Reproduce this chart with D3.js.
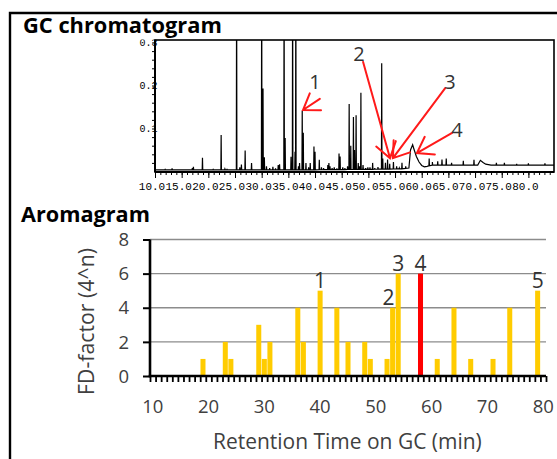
<!DOCTYPE html>
<html><head><meta charset="utf-8">
<script src="https://cdn.jsdelivr.net/npm/d3@7"></script>
<style>body{margin:0;background:#fff}svg{display:block}</style>
</head><body>
<svg id="c" width="557" height="459"></svg>
<script>
// ---------- GC chromatogram data ----------
const baseRT    = [10, 40, 50, 56, 57.6, 57.9, 58.3, 58.6, 59.0, 59.5, 60.0, 60.5, 61.0, 62.0, 70.5, 71.0, 71.5, 72.0, 73.0, 84.8];
const baseLevel = [0.004, 0.004, 0.005, 0.006, 0.008, 0.05, 0.062, 0.05, 0.035, 0.022, 0.014, 0.011, 0.012, 0.015, 0.015, 0.026, 0.021, 0.017, 0.015, 0.015];
const peakRT = [11.9, 13.2, 17.0, 17.2, 18.9, 20.9, 22.4, 23.1, 23.5, 25.3, 25.9, 26.2, 26.9, 28.1, 30.0, 30.25, 30.5, 30.9, 31.5, 32.1, 32.6, 33.1, 33.35, 34.2, 34.4, 35.5, 35.8, 36.25, 36.4, 36.9, 37.1, 37.6, 37.8, 38.3, 38.8, 39.1, 39.8, 40.0, 40.8, 41.2, 41.6, 42.4, 42.6, 42.8, 43.2, 43.6, 44.1, 44.5, 44.7, 45.2, 45.6, 46.1, 46.4, 46.7, 47.2, 47.4, 47.7, 48.1, 48.35, 48.6, 49.0, 49.5, 49.9, 50.3, 50.8, 51.2, 51.8, 52.5, 52.7, 53.2, 53.6, 54.0, 54.7, 55.3, 55.8, 56.3, 57.0, 61.4, 62.0, 63.0, 63.8, 64.6, 65.6, 67.8, 69.8, 74.0, 75.5, 77.8, 80.0, 83.1];
const peakH  = [0.005, 0.007, 0.008, 0.011, 0.032, 0.005, 0.085, 0.006, 0.005, 0.5, 0.01, 0.016, 0.049, 0.02, 0.5, 0.193, 0.033, 0.012, 0.008, 0.011, 0.007, 0.015, 0.017, 0.5, 0.078, 0.034, 0.5, 0.046, 0.5, 0.012, 0.02, 0.141, 0.09, 0.02, 0.01, 0.02, 0.058, 0.046, 0.027, 0.01, 0.008, 0.015, 0.02, 0.012, 0.008, 0.01, 0.007, 0.042, 0.035, 0.01, 0.008, 0.012, 0.157, 0.06, 0.127, 0.05, 0.131, 0.02, 0.012, 0.183, 0.015, 0.008, 0.01, 0.01, 0.02, 0.008, 0.01, 0.252, 0.03, 0.02, 0.028, 0.018, 0.022, 0.012, 0.008, 0.02, 0.012, 0.03, 0.022, 0.024, 0.028, 0.03, 0.02, 0.025, 0.027, 0.02, 0.02, 0.018, 0.019, 0.019];
const gcXTicks = [10, 15, 20, 25, 30, 35, 40, 45, 50, 55, 60, 65, 70, 75, 80];
const gcYTicks = [0.1, 0.2, 0.3];
// arrows: tail / tip given in (retention time, intensity)
const arrowTail = [[40.9, 0.169], [49.0, 0.255], [64.4, 0.194], [65.7, 0.09]];
const arrowTip  = [[37.75, 0.143], [54.06, 0.031], [54.6, 0.031], [59.1, 0.043]];
const arrowLabel = ["1", "2", "3", "4"];
const arrowLabelPos = [[40.0, 0.208], [48.25, 0.273], [65.3, 0.208], [66.6, 0.0965]];

// ---------- Aromagram data ----------
const aromaRT = [19, 23, 24, 29, 30, 31, 36, 37, 40, 43, 45, 48, 49, 52, 53, 54, 58, 61, 64, 67, 71, 74, 79];
const aromaFD = [1, 2, 1, 3, 1, 2, 4, 2, 5, 4, 2, 2, 1, 1, 4, 6, 6, 1, 4, 1, 1, 4, 5];
const highlightRT = [58];
const aromaLabelRT = [40, 53, 54, 58, 79];
const aromaLabelText = ["1", "2", "3", "4", "5"];
const aromaYTicks = [0, 2, 4, 6, 8];
const aromaXTicks = [10, 20, 30, 40, 50, 60, 70, 80];

const svg = d3.select("#c");
const FONT = "'Open Sans', sans-serif";

function fitWidth(sel, target) {
  const w = sel.node().getComputedTextLength();
  const fs = parseFloat(sel.attr("font-size"));
  sel.attr("font-size", fs * target / w);
}

// outer frame
svg.append("path").attr("d", "M10,459V13H557").attr("fill", "none").attr("stroke", "#000").attr("stroke-width", 2.4);

// ---------- chromatogram ----------
const xC = d3.scaleLinear().domain([10, 84.8]).range([155, 554]);
const yC = d3.scaleLinear().domain([0, 0.3]).range([171.5, 42.5]);

svg.append("defs").append("clipPath").attr("id", "gcclip")
  .append("rect").attr("x", 155).attr("y", 40).attr("width", 399).attr("height", 132);
svg.select("defs").append("clipPath").attr("id", "ylabclip")
  .append("rect").attr("x", 100).attr("y", 39.5).attr("width", 60).attr("height", 140);

const baseAt = d3.scaleLinear().domain(baseRT).range(baseLevel);
const pts = baseRT.map((t, i) => [t, baseLevel[i]]);
peakRT.forEach((t, i) => {
  pts.push([t - 0.05, baseAt(t - 0.05)], [t, peakH[i]], [t + 0.05, baseAt(t + 0.05)]);
});
pts.sort((a, b) => a[0] - b[0]);
svg.append("path")
  .attr("clip-path", "url(#gcclip)")
  .attr("d", d3.line().x(d => xC(d[0])).y(d => yC(d[1]))(pts))
  .attr("fill", "none").attr("stroke", "#000").attr("stroke-width", 1.2);

// frame
svg.append("rect").attr("x", 155).attr("y", 40).attr("width", 399).attr("height", 132)
  .attr("fill", "none").attr("stroke", "#000").attr("stroke-width", 1.6);

// x axis ticks
const gxC = svg.append("g").attr("transform", "translate(0,172)");
gxC.call(d3.axisBottom(xC).tickValues(d3.range(10, 85, 1)).tickSize(3).tickFormat(""));
gxC.append("g").call(d3.axisBottom(xC).tickValues(gcXTicks).tickSize(6).tickFormat(""));
gxC.selectAll(".domain").remove();
gxC.selectAll("line").attr("stroke", "#000").attr("stroke-width", 1);
gxC.selectAll(".xl").data(gcXTicks).enter().append("text")
  .attr("x", d => xC(d) - 3).attr("y", 18)
  .attr("font-family", "'Liberation Mono', monospace").attr("font-size", 11)
  .attr("fill", "#000").text(d => d.toFixed(1));

// y axis
const gyC = svg.append("g").attr("transform", "translate(155,0)");
gyC.call(d3.axisLeft(yC).tickValues(d3.range(0.02, 0.31, 0.02)).tickSize(3).tickFormat(""));
gyC.selectAll(".domain").remove();
gyC.selectAll("line").attr("stroke", "#000");
svg.append("g").attr("clip-path", "url(#ylabclip)").selectAll("text").data(gcYTicks).enter().append("text")
  .attr("x", 157.5).attr("y", d => yC(d)).attr("dy", "0.35em").attr("text-anchor", "end")
  .attr("font-family", "'Liberation Mono', monospace").attr("font-size", 10)
  .attr("fill", "#000").text(d => d.toFixed(1));
svg.append("line").attr("x1", 155).attr("x2", 155).attr("y1", 40).attr("y2", 172).attr("stroke", "#000").attr("stroke-width", 2);
svg.append("line").attr("x1", 155).attr("x2", 554).attr("y1", 172).attr("y2", 172).attr("stroke", "#000").attr("stroke-width", 2);

// arrows
const ag = svg.append("g").attr("stroke", "#ff1a1a").attr("stroke-width", 2).attr("fill", "none").attr("stroke-linecap", "round");
arrowTail.forEach((tl, i) => {
  const x1 = xC(tl[0]), y1 = yC(tl[1]);
  const x2 = xC(arrowTip[i][0]), y2 = yC(arrowTip[i][1]);
  const ang = Math.atan2(y1 - y2, x1 - x2);
  const L = 18, a = 0.6;
  ag.append("path").attr("d",
    `M${x1},${y1}L${x2},${y2}` +
    `M${x2 + L * Math.cos(ang - a)},${y2 + L * Math.sin(ang - a)}L${x2},${y2}L${x2 + L * Math.cos(ang + a)},${y2 + L * Math.sin(ang + a)}`);
});
svg.selectAll(".al").data(arrowLabel).enter().append("text")
  .attr("x", (d, i) => xC(arrowLabelPos[i][0])).attr("y", (d, i) => yC(arrowLabelPos[i][1]))
  .attr("dy", "0.36em").attr("text-anchor", "middle")
  .attr("font-family", FONT).attr("font-size", 20).attr("fill", "#333").text(d => d);

// title
const t1 = svg.append("text").attr("x", 23).attr("y", 33).attr("font-family", FONT)
  .attr("font-weight", "bold").attr("font-size", 20).attr("fill", "#000").text("GC chromatogram");
fitWidth(t1, 199);

// ---------- aromagram ----------
const xA = d3.scaleLinear().domain([9.5, 80.5]).range([150, 546]);
const yA = d3.scaleLinear().domain([0, 8]).range([376, 239.5]);

// gridlines
svg.append("g").selectAll("line").data(aromaYTicks.filter(d => d > 0)).enter().append("line")
  .attr("x1", 150).attr("x2", 546).attr("y1", d => yA(d)).attr("y2", d => yA(d))
  .attr("stroke", "#8c8c8c").attr("stroke-width", 1.4);

// bars
svg.append("g").selectAll("rect").data(aromaRT).enter().append("rect")
  .attr("x", d => xA(d - 0.45)).attr("width", d => xA(d + 0.45) - xA(d - 0.45))
  .attr("y", (d, i) => yA(aromaFD[i])).attr("height", (d, i) => yA(0) - yA(aromaFD[i]))
  .attr("fill", d => highlightRT.includes(d) ? "#ff0000" : "#ffcc00");

// bar labels
svg.append("g").selectAll("text").data(aromaLabelRT).enter().append("text")
  .attr("x", (d, i) => xA(d) + (aromaLabelText[i] === "2" ? -4 : 0))
  .attr("y", d => yA(aromaFD[aromaRT.indexOf(d)]) - 3)
  .attr("text-anchor", "middle").attr("font-family", FONT).attr("font-size", 21)
  .attr("fill", "#333").text((d, i) => aromaLabelText[i]);

// x axis
const gxA = svg.append("g").attr("transform", "translate(0,376)");
gxA.call(d3.axisBottom(xA).tickValues(d3.range(9.5, 81, 1)).tickSize(6).tickFormat(""));
gxA.selectAll(".domain").remove();
gxA.selectAll("line").attr("stroke", "#000").attr("stroke-width", 1.8);
svg.append("g").selectAll("text").data(aromaXTicks).enter().append("text")
  .attr("x", d => xA(d)).attr("y", 413).attr("text-anchor", "middle")
  .attr("font-family", FONT).attr("font-size", 18.5).attr("fill", "#404040").text(d => d);

// y axis
const gyA = svg.append("g").attr("transform", "translate(150,0)");
gyA.call(d3.axisLeft(yA).tickValues(aromaYTicks).tickSize(7).tickFormat(""));
gyA.selectAll(".domain").remove();
gyA.selectAll("line").attr("stroke", "#000").attr("stroke-width", 2);
svg.append("g").selectAll("text").data(aromaYTicks).enter().append("text")
  .attr("x", 129).attr("y", d => yA(d)).attr("dy", "0.36em").attr("text-anchor", "end")
  .attr("font-family", FONT).attr("font-size", 18.5).attr("fill", "#404040").text(d => d);
svg.append("line").attr("x1", 150).attr("x2", 150).attr("y1", 239.5).attr("y2", 377.2).attr("stroke", "#000").attr("stroke-width", 2.6);
svg.append("line").attr("x1", 148.7).attr("x2", 546).attr("y1", 376).attr("y2", 376).attr("stroke", "#000").attr("stroke-width", 2.6);

// titles
const t2 = svg.append("text").attr("x", 21).attr("y", 221.5).attr("font-family", FONT)
  .attr("font-weight", "bold").attr("font-size", 20).attr("fill", "#000").text("Aromagram");
fitWidth(t2, 129);
const t3 = svg.append("text").attr("x", 213).attr("y", 449).attr("font-family", FONT)
  .attr("font-size", 18).attr("fill", "#404040").text("Retention Time on GC (min)");
fitWidth(t3, 269);
const t4 = svg.append("text").attr("transform", "translate(93.5,321.5) rotate(-90)").attr("text-anchor", "middle")
  .attr("font-family", FONT).attr("font-size", 18).attr("fill", "#404040").text("FD-factor (4^n)");
fitWidth(t4, 147);
</script>
</body></html>
